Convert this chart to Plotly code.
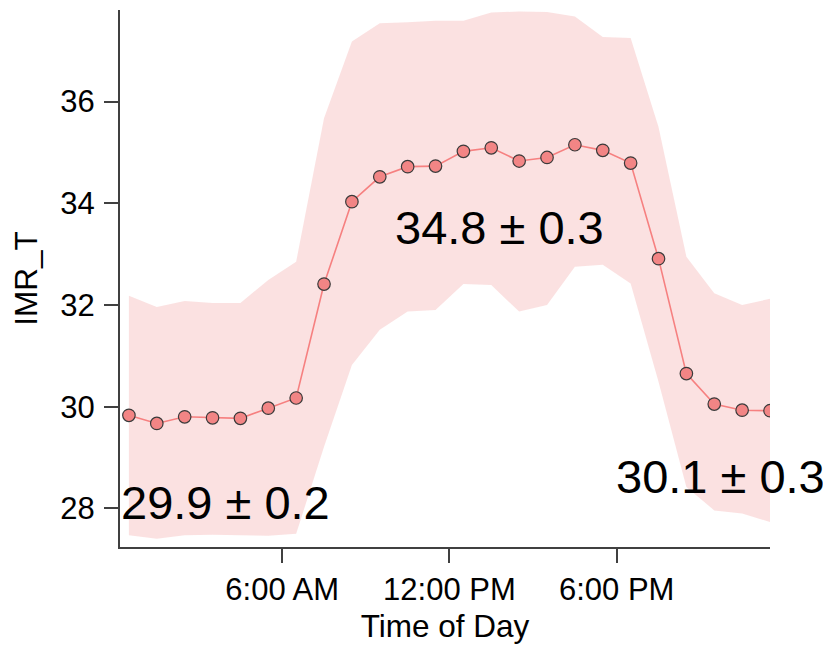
import plotly.graph_objects as go

# Hour of day (bin centres)
hours = [0.5, 1.5, 2.5, 3.5, 4.5, 5.5, 6.5, 7.5, 8.5, 9.5, 10.5, 11.5,
         12.5, 13.5, 14.5, 15.5, 16.5, 17.5, 18.5, 19.5, 20.5, 21.5, 22.5, 23.5]

imr_mean = [29.83, 29.67, 29.80, 29.78, 29.77, 29.97, 30.17, 32.41, 34.03, 34.52, 34.72, 34.73,
            35.02, 35.09, 34.83, 34.90, 35.15, 35.04, 34.79, 32.91, 30.65, 30.05, 29.93, 29.92]

imr_upper = [32.18, 31.96, 32.08, 32.04, 32.04, 32.49, 32.85, 35.67, 37.18, 37.54, 37.56, 37.59,
             37.59, 37.75, 37.77, 37.76, 37.67, 37.27, 37.25, 35.50, 32.95, 32.23, 32.00, 32.12]

imr_lower = [27.47, 27.40, 27.47, 27.48, 27.47, 27.46, 27.50, 29.21, 30.82, 31.51, 31.87, 31.90,
             32.41, 32.39, 31.87, 32.00, 32.75, 32.79, 32.42, 30.49, 28.42, 27.96, 27.90, 27.73]

tick_vals = [6, 12, 18]
tick_text = ["6:00 AM", "12:00 PM", "6:00 PM"]

labels = ["29.9 ± 0.2", "34.8 ± 0.3", "30.1 ± 0.3"]
label_x = [3.98, 13.78, 21.74]
label_y = [28.11, 33.52, 28.63]

FONT = "Liberation Sans, Arial, sans-serif"
AXIS_COLOR = "#404040"

fig = go.Figure()
fig.add_trace(go.Scatter(x=hours, y=imr_upper, mode="lines", line=dict(width=0),
                         hoverinfo="skip", showlegend=False))
fig.add_trace(go.Scatter(x=hours, y=imr_lower, mode="lines", line=dict(width=0),
                         fill="tonexty", fillcolor="rgba(240,128,128,0.24)",
                         hoverinfo="skip", showlegend=False))
fig.add_trace(go.Scatter(x=hours, y=imr_mean, mode="lines+markers",
                         line=dict(color="#F68080", width=1.6),
                         marker=dict(size=12.5, color="#F28585",
                                     line=dict(color="#3a3a3a", width=1.2)),
                         showlegend=False))

for t, x, y in zip(labels, label_x, label_y):
    fig.add_annotation(x=x, y=y, xref="x", yref="y", text=t, showarrow=False,
                       font=dict(family=FONT, size=47, color="black"),
                       xanchor="center", yanchor="middle")

fig.update_layout(
    width=823, height=641,
    margin=dict(l=112, r=61, t=2, b=102, autoexpand=False),
    paper_bgcolor="white", plot_bgcolor="white",
    font=dict(family=FONT, size=31, color="black"),
    showlegend=False,
)
fig.update_xaxes(range=[0.18, 23.5], tickvals=tick_vals, ticktext=tick_text,
                 showgrid=False, zeroline=False,
                 showline=True, linecolor=AXIS_COLOR, linewidth=2,
                 ticks="outside", ticklen=14, tickwidth=2, tickcolor=AXIS_COLOR,
                 tickfont=dict(family=FONT, size=31, color="black"),
                 ticklabelstandoff=0,
                 title=dict(text="Time of Day", font=dict(family=FONT, size=31.5, color="black"),
                            standoff=9))
fig.update_yaxes(range=[27.24, 37.8], tickvals=[28, 30, 32, 34, 36],
                 showgrid=False, zeroline=False,
                 showline=True, linecolor=AXIS_COLOR, linewidth=2,
                 ticks="outside", ticklen=14, tickwidth=2, tickcolor=AXIS_COLOR,
                 tickfont=dict(family=FONT, size=31, color="black"),
                 ticklabelstandoff=3,
                 title=dict(text="IMR_T", font=dict(family=FONT, size=31.5, color="black"),
                            standoff=14))

fig.write_html("out.html")
